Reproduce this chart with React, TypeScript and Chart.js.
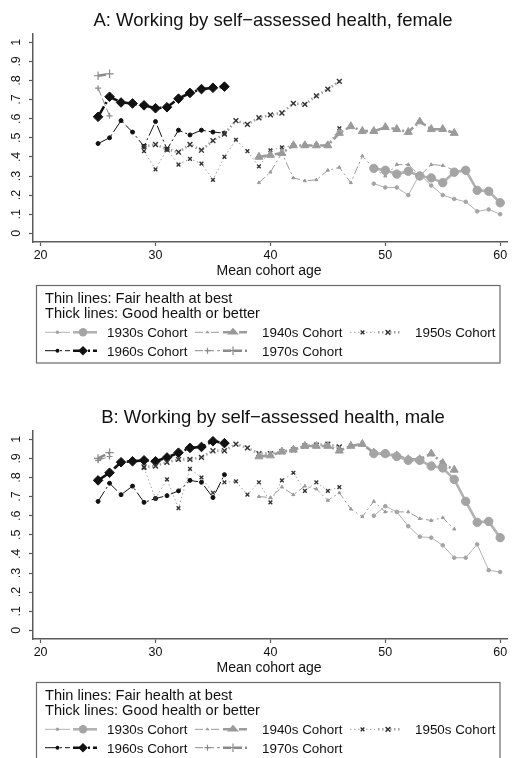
import React, { useEffect, useRef } from 'react';
import { Chart, registerables } from 'chart.js';
Chart.register(...registerables);

// ---------- data ----------
const AGES_1930 = [49, 50, 51, 52, 53, 54, 55, 56, 57, 58, 59, 60];
const AGES_1940 = [39, 40, 41, 42, 43, 44, 45, 46, 47, 48, 49, 50, 51, 52, 53, 54, 55, 56];
const AGES_1950 = [29, 30, 31, 32, 33, 34, 35, 36, 37, 38, 39, 40, 41, 42, 43, 44, 45, 46];
const AGES_1960 = [25, 26, 27, 28, 29, 30, 31, 32, 33, 34, 35, 36];
const AGES_1970 = [25, 26];

// Panel A: female
const F_1930_THIN = [0.26, 0.24, 0.24, 0.2, 0.31, 0.25, 0.2, 0.18, 0.165, 0.115, 0.125, 0.1];
const F_1930_THICK = [0.34, 0.33, 0.31, 0.325, 0.3, 0.29, 0.265, 0.32, 0.33, 0.225, 0.22, 0.16];
const F_1940_THIN = [0.265, 0.32, 0.42, 0.29, 0.275, 0.28, 0.33, 0.345, 0.265, 0.405, 0.34, 0.3, 0.36, 0.36, 0.3, 0.36, 0.355, 0.33];
const F_1940_THICK = [0.4, 0.41, 0.42, 0.46, 0.46, 0.46, 0.46, 0.525, 0.56, 0.535, 0.535, 0.555, 0.545, 0.53, 0.585, 0.545, 0.545, 0.525];
const F_1950_THIN = [0.43, 0.335, 0.44, 0.36, 0.39, 0.365, 0.28, 0.4, 0.49, 0.43, 0.35, 0.435, 0.45, 0.46, 0.46, 0.46, 0.465, 0.55];
const F_1950_THICK = [0.455, 0.465, 0.44, 0.425, 0.465, 0.435, 0.485, 0.52, 0.59, 0.57, 0.605, 0.62, 0.63, 0.68, 0.675, 0.72, 0.755, 0.795];
const F_1960_THIN = [0.47, 0.5, 0.59, 0.53, 0.455, 0.585, 0.44, 0.54, 0.515, 0.54, 0.53, 0.525];
const F_1960_THICK = [0.61, 0.715, 0.685, 0.68, 0.67, 0.655, 0.66, 0.705, 0.735, 0.755, 0.762, 0.768];
const F_1970_THIN = [0.76, 0.615];
const F_1970_THICK = [0.825, 0.835];

// Panel B: male
const M_1930_THIN = [0.6, 0.65, 0.62, 0.545, 0.49, 0.485, 0.445, 0.38, 0.38, 0.45, 0.315, 0.305];
const M_1930_THICK = [0.925, 0.925, 0.91, 0.89, 0.89, 0.86, 0.85, 0.79, 0.675, 0.565, 0.57, 0.485];
const M_1940_THIN = [0.7, 0.695, 0.75, 0.71, 0.755, 0.74, 0.68, 0.72, 0.635, 0.595, 0.675, 0.62, 0.62, 0.62, 0.585, 0.575, 0.59, 0.53];
const M_1940_THICK = [0.91, 0.915, 0.935, 0.945, 0.965, 0.965, 0.965, 0.94, 0.965, 0.975, 0.93, 0.925, 0.915, 0.895, 0.895, 0.925, 0.875, 0.84];
const M_1950_THIN = [0.85, 0.69, 0.79, 0.64, 0.845, 0.8, 0.72, 0.775, 0.78, 0.71, 0.775, 0.67, 0.785, 0.825, 0.73, 0.775, 0.73, 0.75];
const M_1950_THICK = [0.855, 0.86, 0.88, 0.895, 0.895, 0.905, 0.94, 0.94, 0.975, 0.955, 0.925, 0.925, 0.935, 0.945, 0.965, 0.97, 0.975, 0.96];
const M_1960_THIN = [0.675, 0.77, 0.71, 0.755, 0.67, 0.69, 0.705, 0.73, 0.785, 0.775, 0.695, 0.815];
const M_1960_THICK = [0.785, 0.825, 0.88, 0.885, 0.89, 0.885, 0.905, 0.93, 0.955, 0.96, 0.99, 0.98];
const M_1970_THIN = [0.89, 0.91];
const M_1970_THICK = [0.9, 0.93];

const COHORTS = ['1930s Cohort', '1940s Cohort', '1950s Cohort', '1960s Cohort', '1970s Cohort'];
const X_TICKS = [20, 30, 40, 50, 60];
const Y_TICKS = [0, 0.1, 0.2, 0.3, 0.4, 0.5, 0.6, 0.7, 0.8, 0.9, 1];
const Y_TICK_LABELS = ['0', '.1', '.2', '.3', '.4', '.5', '.6', '.7', '.8', '.9', '1'];
const TITLE_A = 'A: Working by self\u2212assessed health, female';
const TITLE_B = 'B: Working by self\u2212assessed health, male';
const X_TITLE = 'Mean cohort age';
const LEGEND_L1 = 'Thin lines: Fair health at best';
const LEGEND_L2 = 'Thick lines: Good health or better';

// ---------- styles ----------
const FONT = '"Liberation Sans", Arial, Helvetica, sans-serif';
const STYLES = [
  { line: '#b2b2b2', marker: '#a4a4a4', dash: [] as number[], ptThin: 'circle', ptThick: 'circle', rThin: 1.8, rThick: 4.2, pbw: 1 },
  { line: '#9c9c9c', marker: '#9a9a9a', dash: [8, 3, 2, 3], ptThin: 'triangle', ptThick: 'triangle', rThin: 1.8, rThick: 4.6, pbw: 1 },
  { line: '#a2a2a2', marker: '#333333', dash: [1.5, 2.5], ptThin: 'crossRot', ptThick: 'crossRot', rThin: 2.6, rThick: 3.4, pbw: 1.4 },
  { line: '#111111', marker: '#111111', dash: [12, 3, 2, 3], ptThin: 'circle', ptThick: 'rectRot', rThin: 2, rThick: 4.8, pbw: 1 },
  { line: '#8a8a8a', marker: '#8a8a8a', dash: [8, 3], ptThin: 'cross', ptThick: 'cross', rThin: 3, rThick: 4.2, pbw: 1.2 },
];
const THIN_W = 1;
const THICK_W = 2.6;

function makeSeries(ages: number[], vals: number[], idx: number, thick: boolean) {
  const st = STYLES[idx];
  return {
    label: COHORTS[idx] + (thick ? ' thick' : ' thin'),
    data: ages.map((a, i) => ({ x: a, y: vals[i] })),
    borderColor: st.line,
    borderWidth: thick ? THICK_W : THIN_W,
    borderDash: st.dash,
    pointStyle: thick ? st.ptThick : st.ptThin,
    pointRadius: thick ? st.rThick : st.rThin,
    pointBackgroundColor: st.marker,
    pointBorderColor: st.marker,
    pointBorderWidth: st.pbw,
    fill: false,
    tension: 0,
    clip: false as any,
  };
}

function drawMarker(ctx: CanvasRenderingContext2D, style: string, x: number, y: number, r: number, color: string, bw: number) {
  ctx.save();
  ctx.fillStyle = color;
  ctx.strokeStyle = color;
  ctx.lineWidth = bw;
  ctx.setLineDash([]);
  ctx.beginPath();
  if (style === 'circle') {
    ctx.arc(x, y, r, 0, Math.PI * 2);
    ctx.fill();
  } else if (style === 'triangle') {
    const s = r * 1.5;
    ctx.moveTo(x, y - r);
    ctx.lineTo(x + s * 0.866, y + r * 0.5);
    ctx.lineTo(x - s * 0.866, y + r * 0.5);
    ctx.closePath();
    ctx.fill();
  } else if (style === 'rectRot') {
    ctx.moveTo(x, y - r);
    ctx.lineTo(x + r, y);
    ctx.lineTo(x, y + r);
    ctx.lineTo(x - r, y);
    ctx.closePath();
    ctx.fill();
  } else if (style === 'crossRot') {
    const d = r * 0.707;
    ctx.moveTo(x - d, y - d); ctx.lineTo(x + d, y + d);
    ctx.moveTo(x + d, y - d); ctx.lineTo(x - d, y + d);
    ctx.stroke();
  } else if (style === 'cross') {
    ctx.moveTo(x, y - r); ctx.lineTo(x, y + r);
    ctx.moveTo(x - r, y); ctx.lineTo(x + r, y);
    ctx.stroke();
  }
  ctx.restore();
}

const decorPlugin = {
  id: 'stataDecor',
  afterDraw(chart: any, _args: any, opts: any) {
    const ctx: CanvasRenderingContext2D = chart.ctx;
    const ys = chart.scales.y;
    ctx.save();
    ctx.fillStyle = '#111';
    ctx.textBaseline = 'alphabetic';
    // title
    ctx.font = '18.5px ' + FONT;
    ctx.textAlign = 'center';
    ctx.fillText(opts.title, 273, 26);
    // rotated y tick labels
    ctx.font = '12.5px ' + FONT;
    Y_TICKS.forEach((v, i) => {
      const py = ys.getPixelForValue(v);
      ctx.save();
      ctx.translate(20, py);
      ctx.rotate(-Math.PI / 2);
      ctx.textAlign = 'center';
      ctx.fillText(Y_TICK_LABELS[i], 0, 0);
      ctx.restore();
    });
    // x title
    ctx.font = '14px ' + FONT;
    ctx.textAlign = 'center';
    ctx.fillText(X_TITLE, 269, 275);
    // legend box
    ctx.strokeStyle = '#6a6a6a';
    ctx.lineWidth = 1.2;
    ctx.strokeRect(36.5, 285.5, 463.5, 77.5);
    ctx.textAlign = 'left';
    ctx.font = '14.6px ' + FONT;
    ctx.fillText(LEGEND_L1, 45, 303.3);
    ctx.fillText(LEGEND_L2, 45, 317.7);
    ctx.font = '13.4px ' + FONT;
    const colX = [45, 195, 350];
    const textX = [107, 262, 415];
    const rowY = [332.3, 350.7];
    COHORTS.forEach((name, i) => {
      const col = i < 3 ? i : i - 3;
      const row = i < 3 ? 0 : 1;
      const st = STYLES[i];
      const sx = colX[col];
      const cy = rowY[row];
      ctx.save();
      ctx.strokeStyle = st.line;
      ctx.setLineDash(st.dash);
      ctx.lineWidth = THIN_W;
      ctx.beginPath(); ctx.moveTo(sx, cy); ctx.lineTo(sx + 25, cy); ctx.stroke();
      ctx.lineWidth = THICK_W;
      ctx.beginPath(); ctx.moveTo(sx + 28, cy); ctx.lineTo(sx + 52, cy); ctx.stroke();
      ctx.restore();
      drawMarker(ctx, st.ptThin, sx + 12.5, cy, st.rThin, st.marker, st.pbw);
      drawMarker(ctx, st.ptThick, sx + 38, cy, st.rThick, st.marker, st.pbw);
      ctx.fillStyle = '#111';
      ctx.fillText(name, textX[col], cy + 5);
    });
    ctx.restore();
  },
};

function buildConfig(title: string, datasets: any[]) {
  return {
    type: 'line' as const,
    data: { datasets },
    plugins: [decorPlugin],
    options: {
      responsive: false,
      animation: false as const,
      devicePixelRatio: 1,
      layout: { padding: { top: 34, left: 0, right: 1, bottom: 0 } },
      plugins: {
        legend: { display: false },
        tooltip: { enabled: false },
        title: { display: false },
        stataDecor: { title },
      },
      scales: {
        x: {
          type: 'linear' as const,
          min: 19.337,
          max: 60.61,
          afterBuildTicks: (s: any) => { s.ticks = X_TICKS.map((v) => ({ value: v })); },
          afterFit: (s: any) => { s.height = 155; },
          grid: { drawOnChartArea: false, drawTicks: true, tickLength: 4, color: '#5a5a5a', tickWidth: 1.2 },
          border: { display: true, color: '#5a5a5a', width: 1.5 },
          ticks: { autoSkip: false, maxRotation: 0, minRotation: 0, padding: 2, color: '#111', font: { family: FONT, size: 12.5 }, callback: (v: any) => String(v) },
        },
        y: {
          type: 'linear' as const,
          min: -0.0455,
          max: 1.0435,
          afterBuildTicks: (s: any) => { s.ticks = Y_TICKS.map((v) => ({ value: v })); },
          afterFit: (s: any) => { s.width = 33; },
          grid: { drawOnChartArea: false, drawTicks: true, tickLength: 4, color: '#5a5a5a', tickWidth: 1.2 },
          border: { display: true, color: '#5a5a5a', width: 1.5 },
          ticks: { autoSkip: false, padding: 0, font: { family: FONT, size: 12.5 }, callback: () => '' },
        },
      },
    },
  };
}

function Panel({ top, title, datasets }: { top: number; title: string; datasets: any[] }) {
  const ref = useRef<HTMLCanvasElement>(null);
  useEffect(() => {
    const chart = new Chart(ref.current as HTMLCanvasElement, buildConfig(title, datasets) as any);
    return () => chart.destroy();
  }, []);
  return (
    <canvas
      ref={ref}
      width={513}
      height={397}
      style={{ position: 'absolute', left: 0, top, width: 513, height: 397, display: 'block' }}
    />
  );
}

const FEMALE = [
  makeSeries(AGES_1930, F_1930_THIN, 0, false), makeSeries(AGES_1930, F_1930_THICK, 0, true),
  makeSeries(AGES_1940, F_1940_THIN, 1, false), makeSeries(AGES_1940, F_1940_THICK, 1, true),
  makeSeries(AGES_1950, F_1950_THIN, 2, false), makeSeries(AGES_1950, F_1950_THICK, 2, true),
  makeSeries(AGES_1960, F_1960_THIN, 3, false), makeSeries(AGES_1960, F_1960_THICK, 3, true),
  makeSeries(AGES_1970, F_1970_THIN, 4, false), makeSeries(AGES_1970, F_1970_THICK, 4, true),
];
const MALE = [
  makeSeries(AGES_1930, M_1930_THIN, 0, false), makeSeries(AGES_1930, M_1930_THICK, 0, true),
  makeSeries(AGES_1940, M_1940_THIN, 1, false), makeSeries(AGES_1940, M_1940_THICK, 1, true),
  makeSeries(AGES_1950, M_1950_THIN, 2, false), makeSeries(AGES_1950, M_1950_THICK, 2, true),
  makeSeries(AGES_1960, M_1960_THIN, 3, false), makeSeries(AGES_1960, M_1960_THICK, 3, true),
  makeSeries(AGES_1970, M_1970_THIN, 4, false), makeSeries(AGES_1970, M_1970_THICK, 4, true),
];

export default function App() {
  useEffect(() => {
    document.body.style.margin = '0';
    document.body.style.overflow = 'hidden';
  }, []);
  return (
    <div style={{ position: 'fixed', left: 0, top: 0, width: 513, height: 758, overflow: 'hidden', background: '#fff' }}>
      <Panel top={0} title={TITLE_A} datasets={FEMALE} />
      <Panel top={397} title={TITLE_B} datasets={MALE} />
    </div>
  );
}
